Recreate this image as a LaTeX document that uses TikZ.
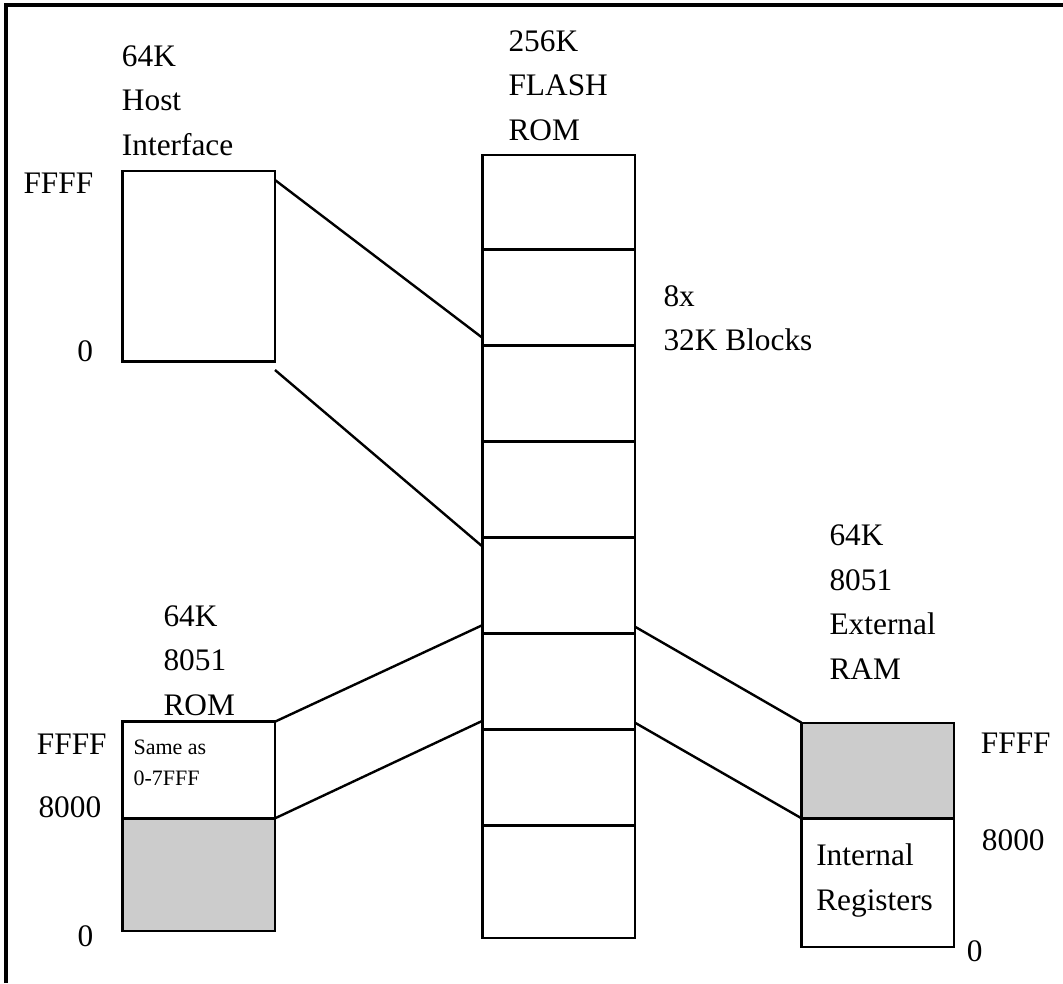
\documentclass[tikz,border=0pt]{standalone}
\usepackage{fontspec}
\setmainfont{Liberation Serif}
\usetikzlibrary{positioning}
\tikzstyle{memblk}=[draw,rectangle,line width=1.8pt,minimum width=114.4pt,inner sep=0pt,outer sep=0pt]
\tikzstyle{memgray}=[memblk,fill=black!20]
\tikzstyle{lbl}=[anchor=base west,align=left,inner sep=0pt,font=\fontsize{23.5}{33.3}\selectfont]
\tikzstyle{smalltxt}=[anchor=base west,align=left,inner sep=0pt,font=\fontsize{16.5}{23.25}\selectfont]
\tikzstyle{link}=[line width=1.8pt]

\begin{document}
\begin{tikzpicture}[x=0.75pt,y=-0.75pt]
    \useasboundingbox (0,0) rectangle (1063,983);
    \draw[line width=2.4pt] (6,983) -- (6,5) -- (1063,5);

    % flash column, 8 blocks
    \node[memblk,minimum height=70.7pt] (f1) at (558.8,202.2) {};
    \foreach \i/\j/\h in {2/1/72pt,3/2/72pt,4/3/72pt,5/4/72pt,6/5/72pt,7/6/72pt,8/7/84.7pt}
    \node[memblk,minimum height=\h,below=0pt of f\j] (f\i) {};
    \node[lbl] (flashlbl) at (508.3,140) {256K\\FLASH\\ROM};
    \node[lbl] (blklbl) at (663.3,350.7) {8x\\32K Blocks};

    % host interface
    \node[memblk,minimum height=143pt] (host) at (198.7,266.3) {};
    \node[lbl] (hostlbl) at (121.7,155) {64K\\Host\\Interface};
    \node[lbl] (hosttop) at (23.3,193) {FFFF};
    \node[lbl] (hostbot) at (77,361.7) {0};

    % 8051 rom
    \node[memblk,minimum height=72.5pt] (romhi) at (198.7,770) {};
    \node[memgray,minimum height=84.5pt,below=0pt of romhi] (romlo) {};
    \node[lbl] (romlbl) at (163.3,715) {64K\\8051\\ROM};
    \node[smalltxt] (romnote) at (133.3,785) {Same as\\0-7FFF};
    \node[lbl] (romtop) at (36.7,754) {FFFF};
    \node[lbl] (rommid) at (38.3,817.3) {8000};
    \node[lbl] (rombot) at (77.3,946.7) {0};

    % 8051 external ram
    \node[memgray,minimum height=71.7pt] (ramhi) at (877.8,770.5) {};
    \node[memblk,minimum height=96.3pt,below=0pt of ramhi] (ramlo) {};
    \node[lbl] (ramlbl) at (829.3,679) {64K\\8051\\External\\RAM};
    \node[lbl] (ramnote) at (816,910) {Internal\\Registers};
    \node[lbl] (ramtop) at (980.7,753.3) {FFFF};
    \node[lbl] (rammid) at (981.7,850) {8000};
    \node[lbl] (rambot) at (966.7,961.7) {0};

    % connector ends
    \coordinate (h1) at (275,180);
    \coordinate (h2) at (275,370);
    \coordinate (fh1) at (482.7,338);
    \coordinate (fh2) at (482.7,546.7);
    \coordinate (fr1) at (482.7,625);
    \coordinate (fr2) at (482.7,720.7);
    \coordinate (fx1) at (635,626.7);
    \coordinate (fx2) at (635,722.7);

    \draw[link] (h1) -- (fh1);
    \draw[link] (h2) -- (fh2);
    \draw[link] (romhi.north east) -- (fr1);
    \draw[link] (romhi.south east) -- (fr2);
    \draw[link] (fx1) -- (ramhi.north west);
    \draw[link] (fx2) -- (ramhi.south west);
\end{tikzpicture}
\end{document}
